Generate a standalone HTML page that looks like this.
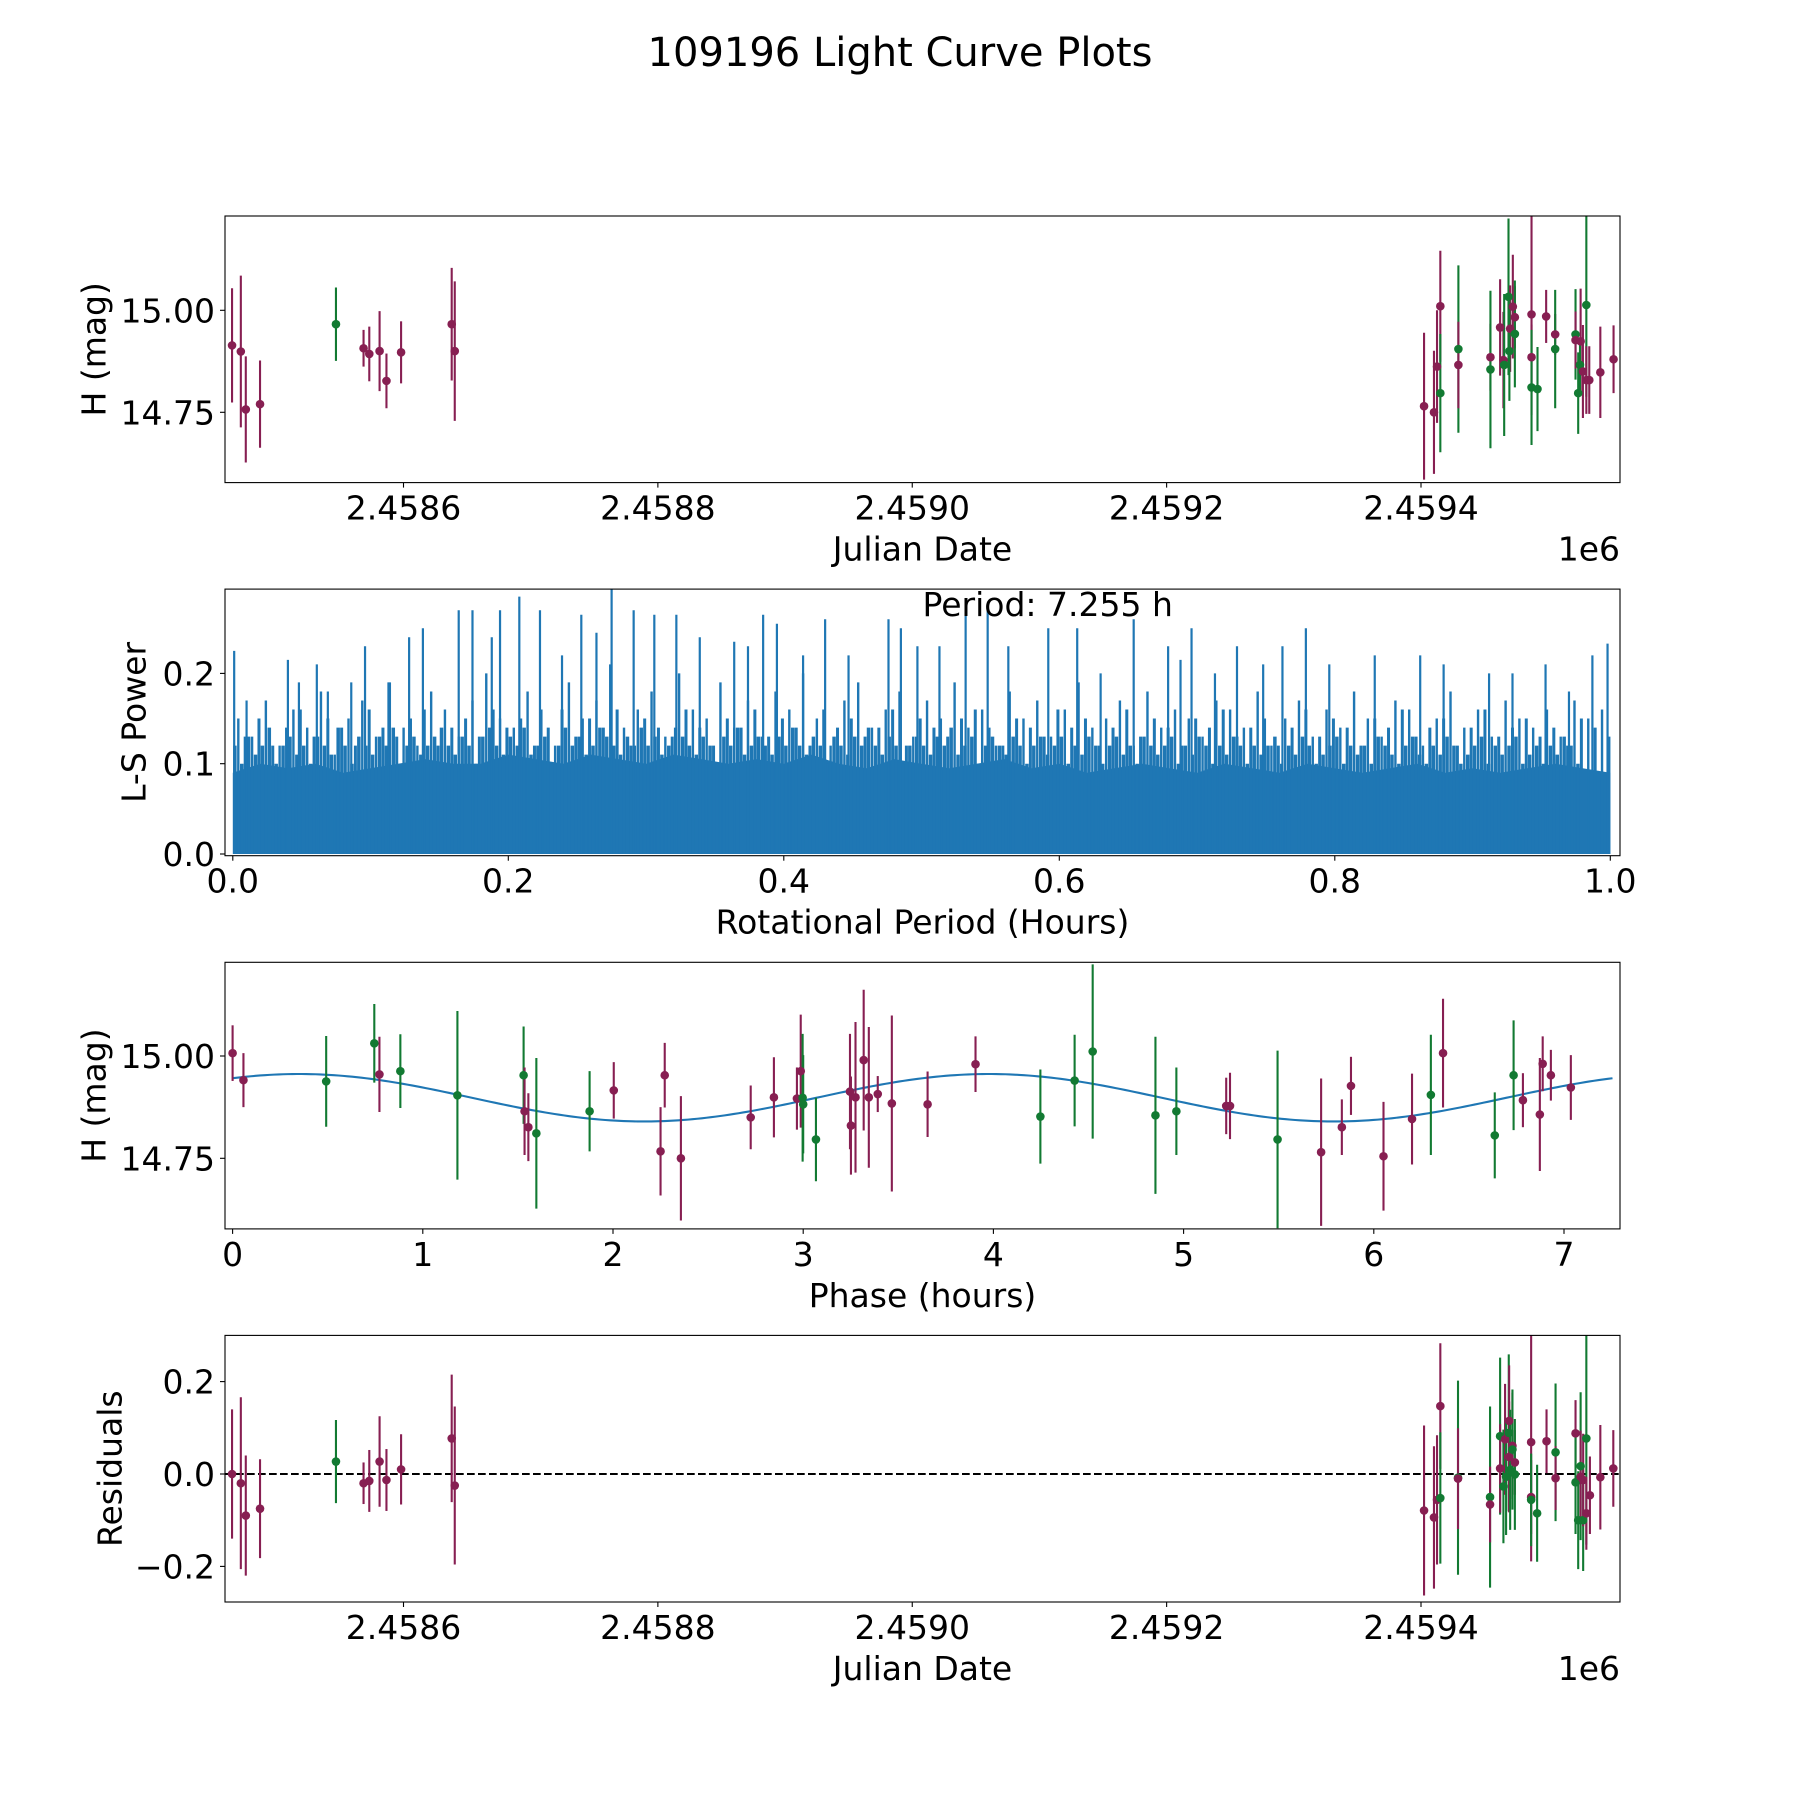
<!DOCTYPE html>
<html><head><meta charset="utf-8"><title>109196 Light Curve Plots</title>
<style>html,body{margin:0;padding:0;background:#fff;}svg{display:block;font-family:"DejaVu Sans","Liberation Sans",sans-serif;}</style>
</head><body>
<svg id="fig" xmlns="http://www.w3.org/2000/svg" width="1800" height="1800" viewBox="0 0 1800 1800">
<rect x="0" y="0" width="1800" height="1800" fill="#ffffff"/>
<text x="900" y="66" font-size="40" text-anchor="middle" fill="#000">109196 Light Curve Plots</text>
</svg>
<script>
// ---------- Panel 1: light curve ----------
const lcJD = [2458465.2,2458472.1,2458476.0,2458487.2,2458546.9,2458568.6,2458573.1,2458581.2,2458586.6,2458598.1,2458637.9,2458640.3,2459402.4,2459410.2,2459412.6,2459415.2,2459415.2,2459429.4,2459429.4,2459454.6,2459454.6,2459462.2,2459468.8,2459464.8,2459470.1,2459472.2,2459473.8,2459473.8,2459469.5,2459465.4,2459486.9,2459486.9,2459486.9,2459491.6,2459498.4,2459505.5,2459505.5,2459521.5,2459521.5,2459525.5,2459530.0,2459525.0,2459523.6,2459527.3,2459530.0,2459532.3,2459541.0,2459551.4];
const lcMag = [14.914,14.899,14.757,14.770,14.966,14.907,14.893,14.900,14.827,14.897,14.966,14.900,14.765,14.750,14.862,15.010,14.797,14.905,14.866,14.885,14.855,14.958,15.033,14.878,14.955,15.009,14.983,14.942,14.900,14.866,14.990,14.885,14.811,14.807,14.985,14.941,14.905,14.941,14.927,14.924,15.013,14.866,14.797,14.850,14.829,14.829,14.848,14.880];
const lcErr = [0.14,0.186,0.13,0.107,0.09,0.045,0.067,0.098,0.067,0.076,0.138,0.171,0.18,0.151,0.138,0.136,0.145,0.205,0.106,0.082,0.193,0.118,0.192,0.118,0.106,0.127,0.076,0.131,0.122,0.174,0.247,0.08,0.141,0.103,0.065,0.05,0.145,0.111,0.07,0.129,0.225,0.065,0.1,0.114,0.083,0.083,0.112,0.083];
const lcBand = ["M","M","M","M","G","M","M","M","M","M","M","M","M","M","M","M","G","G","M","M","G","M","G","M","M","M","M","G","G","G","M","M","G","G","M","M","G","G","M","M","G","G","G","M","M","M","M","M"];
const jdTicks = [2458600,2458800,2459000,2459200,2459400];
const jdTickLabels = ["2.4586","2.4588","2.4590","2.4592","2.4594"];
const magTicks = [14.75,15.00];
const magTickLabels = ["14.75","15.00"];

// ---------- Panel 2: periodogram ----------
const peakPeriod = [0.001,0.010,0.040,0.048,0.061,0.069,0.086,0.096,0.113,0.128,0.138,0.164,0.174,0.188,0.194,0.208,0.223,0.239,0.253,0.264,0.275,0.291,0.306,0.322,0.339,0.364,0.374,0.385,0.395,0.414,0.430,0.447,0.476,0.485,0.497,0.513,0.532,0.548,0.563,0.592,0.613,0.630,0.654,0.679,0.688,0.696,0.713,0.729,0.748,0.762,0.779,0.796,0.829,0.862,0.879,0.912,0.929,0.953,0.970,0.987,0.998];
const peakPower = [0.225,0.17,0.215,0.19,0.21,0.18,0.19,0.23,0.19,0.24,0.25,0.27,0.27,0.24,0.27,0.285,0.27,0.22,0.265,0.245,0.293,0.27,0.265,0.265,0.24,0.235,0.23,0.265,0.255,0.22,0.26,0.22,0.26,0.25,0.23,0.23,0.28,0.27,0.23,0.25,0.25,0.2,0.26,0.23,0.215,0.25,0.2,0.23,0.21,0.23,0.25,0.21,0.22,0.22,0.21,0.2,0.2,0.21,0.18,0.22,0.233];
const midStart = 0.004, midStep = 0.01;
const midPower = [0.15,0.13,0.17,0.12,0.16,0.14,0.18,0.11,0.15,0.17,0.13,0.19,0.14,0.12,0.18,0.16,0.13,0.17,0.2,0.15,0.14,0.18,0.16,0.12,0.19,0.15,0.17,0.21,0.14,0.16,0.18,0.13,0.2,0.16,0.15,0.19,0.14,0.17,0.13,0.18,0.16,0.2,0.15,0.12,0.17,0.19,0.14,0.16,0.18,0.13,0.17,0.15,0.19,0.14,0.16,0.12,0.18,0.15,0.17,0.13,0.16,0.19,0.14,0.15,0.17,0.12,0.18,0.14,0.16,0.15,0.13,0.17,0.16,0.14,0.18,0.12,0.15,0.17,0.13,0.16,0.14,0.18,0.15,0.13,0.17,0.16,0.12,0.15,0.18,0.14,0.16,0.13,0.17,0.15,0.14,0.16,0.13,0.17,0.15,0.16];
const minorStart = 0.009, minorStep = 0.01;
const minorPower = [0.13,0.15,0.12,0.14,0.16,0.13,0.15,0.14,0.12,0.16,0.14,0.13,0.15,0.16,0.12,0.14,0.15,0.13,0.16,0.14,0.15,0.12,0.14,0.16,0.13,0.15,0.14,0.16,0.12,0.15,0.14,0.13,0.16,0.14,0.12,0.15,0.14,0.16,0.13,0.15,0.14,0.12,0.16,0.14,0.15,0.13,0.14,0.16,0.12,0.15,0.14,0.13,0.15,0.16,0.14,0.12,0.15,0.14,0.13,0.16,0.14,0.15,0.12,0.14,0.16,0.13,0.15,0.14,0.12,0.15,0.14,0.16,0.13,0.14,0.15,0.12,0.14,0.16,0.13,0.15,0.14,0.12,0.15,0.14,0.16,0.13,0.14,0.15,0.12,0.14,0.16,0.13,0.14,0.15,0.13,0.14,0.12,0.15,0.14,0.13];
const fineStart = 0.0015, fineStep = 0.005;
const finePower = [0.12,0.1,0.13,0.11,0.12,0.14,0.1,0.12,0.13,0.11,0.12,0.1,0.13,0.12,0.11,0.14,0.12,0.1,0.13,0.12,0.11,0.13,0.12,0.14,0.1,0.12,0.13,0.11,0.12,0.13,0.14,0.12,0.11,0.13,0.12,0.1,0.13,0.14,0.12,0.11,0.13,0.12,0.14,0.11,0.12,0.13,0.1,0.12,0.14,0.12,0.13,0.11,0.12,0.14,0.13,0.12,0.11,0.13,0.12,0.14,0.12,0.13,0.11,0.12,0.14,0.13,0.12,0.11,0.13,0.12,0.1,0.13,0.12,0.14,0.11,0.12,0.13,0.12,0.11,0.13,0.12,0.14,0.12,0.11,0.13,0.12,0.1,0.13,0.12,0.11,0.13,0.12,0.14,0.12,0.11,0.13,0.12,0.1,0.12,0.13,0.12,0.11,0.13,0.12,0.14,0.11,0.12,0.13,0.1,0.12,0.13,0.12,0.11,0.13,0.12,0.1,0.12,0.13,0.11,0.12,0.13,0.1,0.12,0.11,0.13,0.12,0.1,0.12,0.13,0.11,0.12,0.1,0.13,0.12,0.11,0.12,0.13,0.1,0.12,0.11,0.13,0.12,0.1,0.12,0.11,0.13,0.12,0.1,0.12,0.11,0.12,0.13,0.1,0.12,0.11,0.13,0.12,0.1,0.11,0.12,0.13,0.1,0.12,0.11,0.12,0.1,0.13,0.12,0.11,0.1,0.12,0.13,0.11,0.1,0.12,0.11,0.13,0.12,0.1,0.11,0.12,0.13,0.1,0.12,0.11,0.12,0.13,0.1,0.11,0.12,0.1,0.12,0.11,0.13,0.12,0.1];
const baseStart = 0.0, baseStep = 0.02;
const basePower = [0.09,0.1,0.095,0.1,0.09,0.095,0.1,0.105,0.1,0.1,0.11,0.105,0.1,0.11,0.105,0.1,0.11,0.105,0.1,0.105,0.1,0.11,0.1,0.095,0.105,0.1,0.095,0.1,0.105,0.095,0.1,0.09,0.095,0.1,0.095,0.09,0.1,0.095,0.09,0.1,0.095,0.09,0.095,0.1,0.09,0.095,0.09,0.095,0.1,0.095,0.09];
const perTicks = [0,0.2,0.4,0.6,0.8,1.0];
const perTickLabels = ["0.0","0.2","0.4","0.6","0.8","1.0"];
const powTicks = [0,0.1,0.2];
const powTickLabels = ["0.0","0.1","0.2"];

// ---------- Panel 3: phased ----------
const phHours = [0,0.057,0.492,0.745,0.772,0.882,1.182,1.53,1.535,1.555,1.597,1.877,2.004,2.25,2.272,2.357,2.724,2.846,2.967,2.987,2.997,3.0,3.067,3.246,3.251,3.275,3.318,3.345,3.392,3.466,3.654,3.906,4.247,4.427,4.522,4.852,4.962,5.224,5.244,5.494,5.723,5.832,5.88,6.051,6.201,6.3,6.364,6.636,6.735,6.784,6.873,6.888,6.931,7.036];
const phMag = [15.007,14.941,14.938,15.031,14.955,14.963,14.904,14.953,14.865,14.826,14.811,14.865,14.916,14.767,14.953,14.75,14.85,14.899,14.896,14.963,14.898,14.882,14.796,14.913,14.83,14.899,14.99,14.899,14.907,14.884,14.882,14.98,14.852,14.94,15.011,14.855,14.865,14.878,14.878,14.796,14.765,14.826,14.927,14.755,14.846,14.905,15.007,14.806,14.953,14.892,14.857,14.981,14.953,14.923];
const phErr = [0.068,0.066,0.111,0.096,0.092,0.09,0.206,0.119,0.107,0.083,0.184,0.098,0.069,0.108,0.079,0.152,0.078,0.098,0.076,0.138,0.156,0.12,0.102,0.141,0.12,0.184,0.172,0.172,0.044,0.215,0.08,0.068,0.115,0.112,0.213,0.192,0.107,0.069,0.081,0.217,0.18,0.068,0.071,0.133,0.111,0.147,0.133,0.105,0.134,0.066,0.138,0.067,0.062,0.079];
const phBand = ["M","M","G","G","M","G","G","G","M","M","G","G","M","M","M","M","M","M","M","M","G","G","G","M","M","M","M","M","M","M","M","M","G","G","G","G","G","M","M","G","M","M","M","M","M","G","M","G","G","M","M","M","M","M"];
const fitParams = [14.898, 0.058, 0.35, 3.6275, 7.255]; // mean, amplitude, peak phase, half-period, period
const phTicks = [0,1,2,3,4,5,6,7];
const phTickLabels = ["0","1","2","3","4","5","6","7"];

// ---------- Panel 4: residuals ----------
const resJD = [2458465.2,2458472.1,2458476.0,2458487.2,2458546.9,2458568.6,2458573.1,2458581.2,2458586.6,2458598.1,2458637.9,2458640.3,2459402.4,2459410.2,2459412.6,2459415.2,2459415.2,2459429.1,2459429.1,2459454.3,2459454.3,2459462.2,2459462.2,2459464.8,2459466.1,2459466.9,2459469.0,2459469.3,2459469.3,2459470.1,2459471.9,2459471.9,2459473.8,2459473.8,2459486.6,2459486.6,2459486.6,2459491.3,2459498.7,2459505.8,2459505.8,2459521.5,2459521.5,2459525.5,2459523.6,2459527.5,2459525.5,2459527.5,2459530.0,2459530.0,2459532.8,2459541.0,2459551.2];
const resVal = [0.0,-0.02,-0.09,-0.075,0.027,-0.02,-0.015,0.027,-0.013,0.01,0.077,-0.025,-0.079,-0.094,-0.056,0.147,-0.052,-0.008,-0.01,-0.05,-0.066,0.082,0.012,-0.027,0.075,-0.006,0.089,0.115,0.037,0.009,0.061,0.053,0.025,-0.001,0.069,-0.05,-0.056,-0.085,0.071,0.047,-0.009,0.088,-0.018,0.017,-0.1,-0.1,-0.006,-0.013,0.077,-0.085,-0.046,-0.007,0.012];
const resErr = [0.14,0.186,0.13,0.107,0.09,0.045,0.067,0.098,0.067,0.076,0.138,0.171,0.184,0.154,0.14,0.136,0.142,0.21,0.109,0.196,0.082,0.17,0.096,0.123,0.12,0.126,0.17,0.12,0.12,0.13,0.115,0.13,0.07,0.12,0.258,0.08,0.1,0.105,0.069,0.149,0.069,0.072,0.112,0.16,0.106,0.11,0.1,0.1,0.23,0.079,0.084,0.113,0.083];
const resBand = ["M","M","M","M","G","M","M","M","M","M","M","M","M","M","M","M","G","G","M","G","M","G","M","G","M","G","G","M","M","G","M","G","M","G","M","M","G","G","M","G","M","M","G","G","G","G","M","M","G","M","M","M","M"];
const resTicks = [-0.2,0,0.2];
const resTickLabels = ["\u22120.2","0.0","0.2"];

const NS = "http://www.w3.org/2000/svg";
const svg = document.getElementById('fig');
const COL = {M:"#871f52", G:"#127a32"};
const L = 225, R = 1620, H = 266.6;
const TOPS = [216, 589.1, 962.3, 1335.4];
const FS = 33;

function mk(tag, attrs, parent) {
  const e = document.createElementNS(NS, tag);
  for (const k in attrs) e.setAttribute(k, attrs[k]);
  (parent || svg).appendChild(e);
  return e;
}
function lin(d0, d1, p0, p1) { return v => p0 + (v - d0) / (d1 - d0) * (p1 - p0); }

function axesFrame(idx, name, xTicks, xLabels, xs, yTicks, yLabels, ys, xTitle, yTitle, yTitleX, offsetText) {
  const top = TOPS[idx], bot = top + H;
  const g = mk('g', {});
  
  
  xTicks.forEach((t, i) => {
    const x = xs(t);
    const tk = mk('line', {x1:x, x2:x, y1:bot, y2:bot+5, stroke:'#000', 'stroke-width':1.1}, g);
    
    
    const tl = mk('text', {x:x, y:bot+37, 'font-size':FS, 'text-anchor':'middle', fill:'#000'}, g);
    
    
    tl.textContent = xLabels[i];
  });
  yTicks.forEach((t, i) => {
    const y = ys(t);
    const tk = mk('line', {x1:L-5, x2:L, y1:y, y2:y, stroke:'#000', 'stroke-width':1.1}, g);
    
    
    const tl = mk('text', {x:L-10, y:y+12, 'font-size':FS, 'text-anchor':'end', fill:'#000'}, g);
    
    
    tl.textContent = yLabels[i];
  });
  const xt = mk('text', {x:(L+R)/2, y:bot+78, 'font-size':FS, 'text-anchor':'middle', fill:'#000'}, g);
  
  
  xt.textContent = xTitle;
  const yc = top + H/2;
  const yt = mk('text', {x:yTitleX, y:yc, 'font-size':FS, 'text-anchor':'middle', 'dominant-baseline':'central', fill:'#000', transform:'rotate(-90 '+yTitleX+' '+yc+')'}, g);
  
  
  yt.textContent = yTitle;
  if (offsetText) {
    const ot = mk('text', {x:R, y:bot+78, 'font-size':FS, 'text-anchor':'end', fill:'#000'}, g);
    
    
    ot.textContent = offsetText;
  }
  return g;
}
function spines(idx, name) {
  const top = TOPS[idx];
  const s = mk('rect', {x:L, y:top, width:R-L, height:H, fill:'none', stroke:'#000', 'stroke-width':1.1});
  
  
}
function clip(idx, id) {
  const c = mk('clipPath', {id:id});
  mk('rect', {x:L, y:TOPS[idx], width:R-L, height:H}, c);
}
function errPoints(xArr, yArr, eArr, bArr, xs, ys, name, clipId) {
  const g = mk('g', {'clip-path':'url(#'+clipId+')'});
  
  
  const n = Math.min(xArr.length, yArr.length, eArr.length, bArr.length);
  for (let i = 0; i < n; i++) {
    const x = xs(xArr[i]);
    const eb = mk('line', {x1:x, x2:x, y1:ys(yArr[i]-eArr[i]), y2:ys(yArr[i]+eArr[i]), stroke:COL[bArr[i]], 'stroke-width':2.1}, g);
    
    
  }
  for (let i = 0; i < n; i++) {
    const pt = mk('circle', {cx:xs(xArr[i]), cy:ys(yArr[i]), r:4.3, fill:COL[bArr[i]]}, g);
    
    
  }
}

// Panel 1
const jdX = lin(2458600, 2459400, 403.5, 1421);
const m1Y = lin(15.0, 14.75, 310.3, 412.3);
clip(0, 'c1');
axesFrame(0, 'light-curve', jdTicks, jdTickLabels, jdX, magTicks, magTickLabels, m1Y, 'Julian Date', 'H (mag)', 94, '1e6');
errPoints(lcJD, lcMag, lcErr, lcBand, jdX, m1Y, 'light-curve', 'c1');
spines(0, 'light-curve');

// Panel 2
const pX = lin(0, 1, 232.8, 1610.3);
const pY = lin(0, 0.1, 854, 763.7);
clip(1, 'c2');
axesFrame(1, 'periodogram', perTicks, perTickLabels, pX, powTicks, powTickLabels, pY, 'Rotational Period (Hours)', 'L-S Power', 134, null);
const pg = mk('g', {'clip-path':'url(#c2)'});


let d = 'M' + pX(baseStart) + ' ' + pY(0);
basePower.forEach((v, i) => { d += ' L' + pX(baseStart + i*baseStep) + ' ' + pY(v); });
d += ' L' + pX(baseStart + (basePower.length-1)*baseStep) + ' ' + pY(0) + ' Z';
const base = mk('path', {d:d, fill:'#1f77b4'}, pg);


finePower.forEach((v, i) => {
  const x = pX(fineStart + i*fineStep);
  const ln = mk('line', {x1:x, x2:x, y1:pY(0), y2:pY(v), stroke:'#1f77b4', 'stroke-width':3.5}, pg);
  
  
});
minorPower.forEach((v, i) => {
  const x = pX(minorStart + i*minorStep);
  const ln = mk('line', {x1:x, x2:x, y1:pY(0), y2:pY(v), stroke:'#1f77b4', 'stroke-width':3}, pg);
  
  
});
midPower.forEach((v, i) => {
  const x = pX(midStart + i*midStep);
  const ln = mk('line', {x1:x, x2:x, y1:pY(0), y2:pY(v), stroke:'#1f77b4', 'stroke-width':2.4}, pg);
  
  
});
peakPeriod.forEach((p, i) => {
  const x = pX(p);
  const ln = mk('line', {x1:x, x2:x, y1:pY(0), y2:pY(peakPower[i]), stroke:'#1f77b4', 'stroke-width':2.2}, pg);
  
  
});
const ptxt = mk('text', {x:922.5, y:616, 'font-size':FS, fill:'#000'});


ptxt.textContent = 'Period: 7.255 h';
spines(1, 'periodogram');

// Panel 3
const phX = lin(0, 1, 232.6, 422.8);
const m3Y = lin(15.0, 14.75, 1056, 1158.3);
clip(2, 'c3');
axesFrame(2, 'phased', phTicks, phTickLabels, phX, magTicks, magTickLabels, m3Y, 'Phase (hours)', 'H (mag)', 94, null);
let fd = '';
for (let k = 0; k <= 300; k++) {
  const ph = fitParams[4] * k / 300;
  const m = fitParams[0] + fitParams[1] * Math.cos(2*Math.PI*(ph - fitParams[2]) / fitParams[3]);
  fd += (k ? ' L' : 'M') + phX(ph).toFixed(2) + ' ' + m3Y(m).toFixed(2);
}
const fit = mk('path', {d:fd, fill:'none', stroke:'#1f77b4', 'stroke-width':2.1, 'clip-path':'url(#c3)'});


errPoints(phHours, phMag, phErr, phBand, phX, m3Y, 'phased', 'c3');
spines(2, 'phased');

// Panel 4
const rY = lin(0, 0.2, 1474, 1381.6);
clip(3, 'c4');
axesFrame(3, 'residuals', jdTicks, jdTickLabels, jdX, resTicks, resTickLabels, rY, 'Julian Date', 'Residuals', 110, '1e6');
const zl = mk('line', {x1:L, x2:R, y1:rY(0), y2:rY(0), stroke:'#000', 'stroke-width':2.1, 'stroke-dasharray':'7.7,3.3'});


errPoints(resJD, resVal, resErr, resBand, jdX, rY, 'residuals', 'c4');
spines(3, 'residuals');
</script>
</body></html>
